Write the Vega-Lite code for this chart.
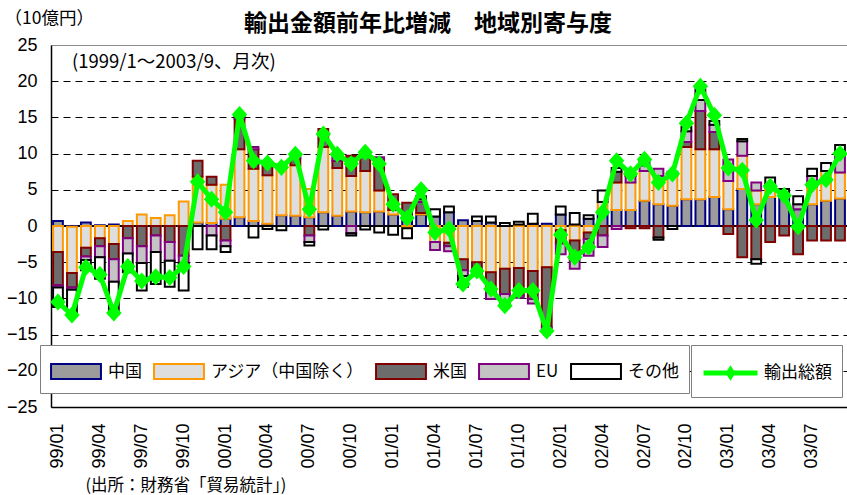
{
  "$schema": "https://vega.github.io/schema/vega-lite/v6.json",
  "width": 796,
  "height": 362,
  "autosize": "none",
  "padding": {"left": 51, "top": 45, "right": 0, "bottom": 88},
  "background": "white",
  "title": {
    "text": "輸出金額前年比増減　地域別寄与度",
    "font": "Noto Sans CJK JP",
    "fontSize": 23,
    "fontWeight": "bold",
    "color": "black",
    "anchor": "middle",
    "frame": "group",
    "offset": 0,
    "dx": -21,
    "dy": 27
  },
  "data": {
    "values": [
      {"m": "99/01", "c1": 0.7, "c2": -3.6, "c3": -4.6, "c4": -0.3, "c5": -2.7, "t": -10.5},
      {"m": "99/02", "c1": -0.1, "c2": -6.4, "c3": -2.0, "c4": -0.3, "c5": -3.5, "t": -12.3},
      {"m": "99/03", "c1": 0.5, "c2": -3.0, "c3": -1.2, "c4": -0.5, "c5": -1.4, "t": -5.7},
      {"m": "99/04", "c1": 0.1, "c2": -1.7, "c3": -1.1, "c4": -1.5, "c5": -3.0, "t": -6.7},
      {"m": "99/05", "c1": 0.2, "c2": -2.5, "c3": -2.1, "c4": -3.1, "c5": -4.5, "t": -12.0},
      {"m": "99/06", "c1": 0.0, "c2": 0.7, "c3": -1.7, "c4": -2.1, "c5": -2.6, "t": -5.6},
      {"m": "99/07", "c1": 0.0, "c2": 1.6, "c3": -2.8, "c4": -2.3, "c5": -3.8, "t": -7.6},
      {"m": "99/08", "c1": 0.0, "c2": 1.1, "c3": -1.3, "c4": -2.3, "c5": -4.4, "t": -7.0},
      {"m": "99/09", "c1": 0.0, "c2": 1.5, "c3": -2.2, "c4": -2.6, "c5": -3.6, "t": -7.1},
      {"m": "99/10", "c1": 0.0, "c2": 3.4, "c3": -4.1, "c4": -1.0, "c5": -3.8, "t": -5.6},
      {"m": "99/11", "c1": 0.5, "c2": 6.3, "c3": 2.2, "c4": 0.0, "c5": -3.2, "t": 6.1},
      {"m": "99/12", "c1": 0.4, "c2": 5.3, "c3": 1.1, "c4": -1.3, "c5": -1.9, "t": 3.7},
      {"m": "00/01", "c1": 1.0, "c2": 4.7, "c3": -2.0, "c4": -0.8, "c5": -0.8, "t": 1.9},
      {"m": "00/02", "c1": 1.2, "c2": 9.4, "c3": 4.2, "c4": 0.3, "c5": 0.3, "t": 15.4},
      {"m": "00/03", "c1": 0.7, "c2": 7.2, "c3": 2.7, "c4": 0.3, "c5": -1.6, "t": 9.0},
      {"m": "00/04", "c1": 0.3, "c2": 6.7, "c3": 1.5, "c4": 0.0, "c5": -0.4, "t": 8.7},
      {"m": "00/05", "c1": 1.5, "c2": 6.5, "c3": 0.3, "c4": 0.0, "c5": -0.6, "t": 8.1},
      {"m": "00/06", "c1": 1.4, "c2": 7.0, "c3": 1.0, "c4": 0.3, "c5": 0.0, "t": 9.9},
      {"m": "00/07", "c1": 1.2, "c2": 3.9, "c3": -1.3, "c4": -0.9, "c5": -0.5, "t": 2.3},
      {"m": "00/08", "c1": 1.9, "c2": 9.0, "c3": 2.5, "c4": 0.0, "c5": -0.5, "t": 12.7},
      {"m": "00/09", "c1": 1.4, "c2": 6.6, "c3": 1.0, "c4": 0.5, "c5": 0.0, "t": 9.9},
      {"m": "00/10", "c1": 2.0, "c2": 4.9, "c3": 2.8, "c4": -1.0, "c5": -0.3, "t": 8.6},
      {"m": "00/11", "c1": 1.9, "c2": 5.7, "c3": 2.6, "c4": 0.0, "c5": -0.5, "t": 10.2},
      {"m": "00/12", "c1": 2.0, "c2": 2.9, "c3": 4.3, "c4": 0.3, "c5": -0.9, "t": 8.6},
      {"m": "01/01", "c1": 1.6, "c2": 0.6, "c3": 2.2, "c4": 0.0, "c5": -1.2, "t": 3.0},
      {"m": "01/02", "c1": 1.5, "c2": -0.3, "c3": 1.7, "c4": 0.0, "c5": -1.4, "t": 1.1},
      {"m": "01/03", "c1": 1.6, "c2": 0.2, "c3": 1.5, "c4": 0.4, "c5": 0.4, "t": 5.0},
      {"m": "01/04", "c1": 1.3, "c2": -2.2, "c3": 0.0, "c4": -1.1, "c5": 1.0, "t": -0.9},
      {"m": "01/05", "c1": 1.9, "c2": -2.3, "c3": -0.5, "c4": -0.7, "c5": 0.8, "t": -0.4},
      {"m": "01/06", "c1": 0.8, "c2": -4.6, "c3": -1.5, "c4": -0.8, "c5": -1.5, "t": -8.0},
      {"m": "01/07", "c1": 0.7, "c2": -5.0, "c3": -1.4, "c4": -0.3, "c5": 0.6, "t": -6.2},
      {"m": "01/08", "c1": 0.5, "c2": -6.4, "c3": -2.7, "c4": -1.0, "c5": 0.8, "t": -8.7},
      {"m": "01/09", "c1": 0.0, "c2": -5.9, "c3": -3.5, "c4": -1.5, "c5": 0.4, "t": -11.0},
      {"m": "01/10", "c1": 0.2, "c2": -5.8, "c3": -3.8, "c4": -0.3, "c5": 0.4, "t": -8.9},
      {"m": "01/11", "c1": 0.3, "c2": -6.2, "c3": -3.9, "c4": -0.6, "c5": 1.4, "t": -8.9},
      {"m": "01/12", "c1": 0.3, "c2": -5.7, "c3": -8.3, "c4": -0.5, "c5": 0.0, "t": -14.5},
      {"m": "02/01", "c1": 1.6, "c2": -0.6, "c3": -1.8, "c4": -1.5, "c5": 1.1, "t": -1.2},
      {"m": "02/02", "c1": 0.2, "c2": -2.0, "c3": -2.5, "c4": -1.4, "c5": 1.6, "t": -4.3},
      {"m": "02/03", "c1": 1.0, "c2": -0.9, "c3": -0.9, "c4": -2.3, "c5": 0.5, "t": -2.9},
      {"m": "02/04", "c1": 1.9, "c2": 1.4, "c3": -1.3, "c4": -1.6, "c5": 1.6, "t": 1.9},
      {"m": "02/05", "c1": 2.2, "c2": 3.8, "c3": 1.5, "c4": -0.4, "c5": 0.5, "t": 9.0},
      {"m": "02/06", "c1": 2.2, "c2": 3.8, "c3": -0.3, "c4": 0.9, "c5": 0.3, "t": 7.2},
      {"m": "02/07", "c1": 3.5, "c2": 4.1, "c3": -0.3, "c4": 0.8, "c5": 0.7, "t": 9.2},
      {"m": "02/08", "c1": 3.0, "c2": 3.9, "c3": -1.6, "c4": 1.0, "c5": -0.3, "t": 6.0},
      {"m": "02/09", "c1": 2.8, "c2": 4.2, "c3": 0.2, "c4": 0.3, "c5": -0.4, "t": 7.2},
      {"m": "02/10", "c1": 3.7, "c2": 7.2, "c3": 0.7, "c4": 1.5, "c5": 0.6, "t": 14.2},
      {"m": "02/11", "c1": 3.7, "c2": 6.9, "c3": 5.3, "c4": 1.5, "c5": 1.5, "t": 19.3},
      {"m": "02/12", "c1": 4.0, "c2": 6.6, "c3": 2.4, "c4": 1.0, "c5": 0.5, "t": 15.3},
      {"m": "03/01", "c1": 2.3, "c2": 3.9, "c3": -1.1, "c4": 3.0, "c5": 0.0, "t": 8.0},
      {"m": "03/02", "c1": 5.1, "c2": 4.6, "c3": -4.3, "c4": 2.0, "c5": 0.3, "t": 7.7},
      {"m": "03/03", "c1": 3.0, "c2": 1.9, "c3": -4.6, "c4": 1.1, "c5": -0.6, "t": 0.8},
      {"m": "03/04", "c1": 4.0, "c2": 1.3, "c3": -2.2, "c4": 0.5, "c5": 0.9, "t": 5.5},
      {"m": "03/05", "c1": 4.4, "c2": 0.2, "c3": -1.3, "c4": 0.0, "c5": 0.5, "t": 4.2},
      {"m": "03/06", "c1": 2.3, "c2": 0.0, "c3": -3.9, "c4": 0.7, "c5": 1.1, "t": -0.1},
      {"m": "03/07", "c1": 3.0, "c2": 2.5, "c3": -2.0, "c4": 1.4, "c5": 1.0, "t": 5.7},
      {"m": "03/08", "c1": 3.5, "c2": 4.1, "c3": -2.0, "c4": 0.0, "c5": 1.1, "t": 6.4},
      {"m": "03/09", "c1": 3.8, "c2": 3.6, "c3": -2.0, "c4": 2.8, "c5": 1.0, "t": 10.0}
    ]
  },
  "layer": [
    {
      "mark": {"type": "rule", "color": "black", "strokeWidth": 1},
      "encoding": {"y": {"datum": 0, "type": "quantitative"}}
    },
    {
      "transform": [
        {"fold": ["c1", "c2", "c3", "c4", "c5"], "as": ["region", "value"]},
        {"filter": "datum.value != 0"}
      ],
      "mark": {"type": "bar", "strokeWidth": 2},
      "encoding": {
        "x": {
          "field": "m",
          "type": "nominal",
          "sort": null,
          "scale": {"paddingInner": 0.3, "paddingOuter": 0.15},
          "axis": {
            "values": ["99/01","99/04","99/07","99/10","00/01","00/04","00/07","00/10","01/01","01/04","01/07","01/10","02/01","02/04","02/07","02/10","03/01","03/04","03/07"],
            "title": "(出所：財務省「貿易統計」)",
            "titleX": 34,
            "titleY": 78,
            "titleAlign": "left",
            "titleBaseline": "middle",
            "titleFont": "Noto Sans CJK JP",
            "titleFontSize": 16.5,
            "titleFontWeight": "normal",
            "titleColor": "black",
            "labelAngle": -90,
            "labelAlign": "right",
            "labelBaseline": "middle",
            "labelFont": "Liberation Sans",
            "labelFontSize": 18,
            "labelColor": "black",
            "labelPadding": 16,
            "labelOverlap": false,
            "ticks": false,
            "domainColor": "black",
            "domainWidth": 1.5,
            "grid": false
          }
        },
        "y": {
          "field": "value",
          "type": "quantitative",
          "stack": "zero",
          "scale": {"domain": [-25, 25], "nice": false, "zero": false},
          "axis": {
            "values": [-25, -20, -15, -10, -5, 0, 5, 10, 15, 20, 25],
            "tickCount": 30,
            "title": "（10億円）",
            "titleAngle": 0,
            "titleX": -47,
            "titleY": -27,
            "titleAlign": "left",
            "titleBaseline": "middle",
            "titleFont": "Noto Sans CJK JP",
            "titleFontSize": 17.5,
            "titleFontWeight": "normal",
            "titleColor": "black",
            "labelFont": "Liberation Sans",
            "labelFontSize": 18,
            "labelColor": "black",
            "labelPadding": 14,
            "labelOverlap": false,
            "ticks": false,
            "domainColor": "black",
            "domainWidth": 1.5,
            "grid": true,
            "gridColor": {"condition": {"test": "abs(datum.value) >= 25", "value": "transparent"}, "value": "black"},
            "gridDash": [7, 5],
            "gridWidth": 1
          }
        },
        "fill": {
          "field": "region",
          "type": "nominal",
          "scale": {
            "domain": ["c1", "c2", "c3", "c4", "c5"],
            "range": ["#9c9c9c", "#dedede", "#6c6c6c", "#c4c4c4", "#ffffff"]
          },
          "legend": {
            "orient": "none",
            "legendX": -11,
            "legendY": 300,
            "direction": "horizontal",
            "columns": 5,
            "title": null,
            "fillColor": "white",
            "strokeColor": "#7f7f7f",
            "padding": 10,
            "symbolSize": 961,
            "symbolType": "M-1.61,-0.48H1.61V0.48H-1.61Z",
            "symbolOffset": 9.5,
            "symbolStrokeWidth": 2,
            "labelFont": "Noto Sans CJK JP",
            "labelFontSize": 17,
            "labelColor": "black",
            "labelOffset": 15.5,
            "columnPadding": 8,
            "labelLimit": 300,
            "labelExpr": "datum.value === 'c1' ? '中国' : datum.value === 'c2' ? 'アジア（中国除く）' : datum.value === 'c3' ? '米国' : datum.value === 'c4' ? 'EU' : 'その他'"
          }
        },
        "stroke": {
          "field": "region",
          "type": "nominal",
          "scale": {
            "domain": ["c1", "c2", "c3", "c4", "c5"],
            "range": ["#000080", "#ff9900", "#800000", "#800080", "#000000"]
          },
          "legend": {
            "orient": "none",
            "legendX": -11,
            "legendY": 300,
            "direction": "horizontal",
            "columns": 5,
            "title": null,
            "fillColor": "white",
            "strokeColor": "#7f7f7f",
            "padding": 10,
            "symbolSize": 961,
            "symbolType": "M-1.61,-0.48H1.61V0.48H-1.61Z",
            "symbolOffset": 9.5,
            "symbolStrokeWidth": 2,
            "labelFont": "Noto Sans CJK JP",
            "labelFontSize": 17,
            "labelColor": "black",
            "labelOffset": 15.5,
            "columnPadding": 8,
            "labelLimit": 300,
            "labelExpr": "datum.value === 'c1' ? '中国' : datum.value === 'c2' ? 'アジア（中国除く）' : datum.value === 'c3' ? '米国' : datum.value === 'c4' ? 'EU' : 'その他'"
          }
        },
        "order": {"field": "region", "sort": "ascending"}
      }
    },
    {
      "transform": [{"fold": ["t"], "as": ["region", "value"]}],
      "mark": {"type": "line", "strokeWidth": 5, "strokeJoin": "round"},
      "encoding": {
        "x": {"field": "m", "type": "nominal", "sort": null},
        "y": {"field": "value", "type": "quantitative"},
        "color": {
          "field": "region",
          "type": "nominal",
          "scale": {"domain": ["t"], "range": ["#00ff00"]},
          "legend": {
            "orient": "none",
            "legendX": 640,
            "legendY": 300,
            "title": null,
            "fillColor": "white",
            "strokeColor": "#7f7f7f",
            "padding": 10,
            "symbolType": "M-1.74,0H1.74M0,-0.2L0.13,0L0,0.2L-0.13,0Z",
            "symbolSize": 961,
            "symbolOffset": 11.5,
            "symbolStrokeWidth": 5,
            "labelFont": "Noto Sans CJK JP",
            "labelFontSize": 17,
            "labelColor": "black",
            "labelOffset": 15.5,
            "labelLimit": 300,
            "labelExpr": "'輸出総額　'"
          }
        }
      }
    },
    {
      "mark": {"type": "point", "shape": "M0,-1.1L1,0L0,1.1L-1,0Z", "filled": true, "size": 240, "color": "#00ff00", "opacity": 1},
      "encoding": {
        "x": {"field": "m", "type": "nominal", "sort": null},
        "y": {"field": "t", "type": "quantitative"}
      }
    },
    {
      "data": {"values": [{"label": "(1999/1～2003/9、月次)"}]},
      "mark": {"type": "text", "align": "left", "baseline": "middle", "dx": 14, "font": "Noto Sans CJK JP", "fontSize": 18.5, "color": "black"},
      "encoding": {
        "x": {"datum": "99/01", "type": "nominal"},
        "y": {"datum": 22.6, "type": "quantitative"},
        "text": {"field": "label"}
      }
    }
  ],
  "config": {
    "view": {"stroke": "#8c8c8c", "strokeWidth": 1},
    "font": "Noto Sans CJK JP"
  }
}
